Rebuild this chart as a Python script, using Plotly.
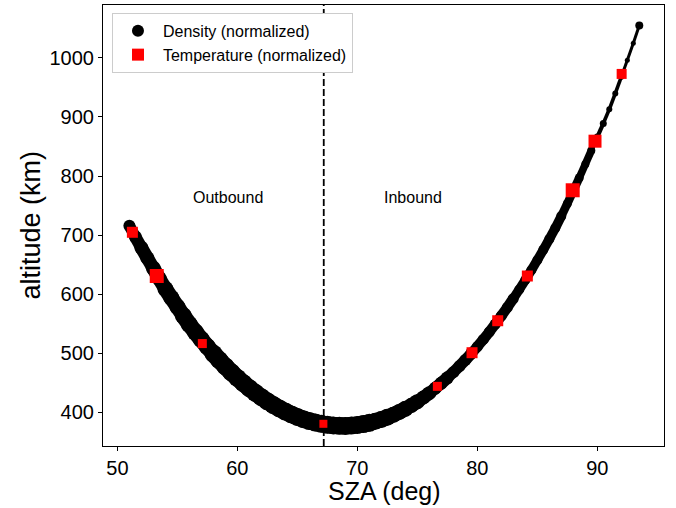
import plotly.graph_objects as go

# Density (normalized) trajectory samples: SZA (deg), altitude (km), marker size
sza_out = [51.0, 51.5, 52.0, 52.5, 53.0, 53.5, 54.0, 54.5, 55.0, 55.5, 56.0, 56.5,
           57.0, 57.5, 58.0, 58.5, 59.0, 59.5, 60.0, 60.5, 61.0, 61.5, 62.0, 62.5,
           63.0, 63.5, 64.0, 64.5, 65.0, 65.5, 66.0, 66.5, 67.0, 67.5, 68.0, 68.5]
alt_out = [715.5, 696.7, 678.5, 660.8, 643.6, 625.8, 608.7, 593.3, 578.4, 563.1, 548.5, 535.4,
           522.7, 510.6, 499.0, 487.9, 477.3, 467.3, 457.8, 448.8, 440.4, 432.5, 425.1, 418.2,
           411.8, 406.0, 400.7, 395.9, 391.7, 387.9, 384.7, 382.1, 379.9, 378.3, 377.2, 376.6]
size_out = [12, 13, 14, 14, 15, 15, 16, 16, 16, 17, 17, 17,
            17, 17, 18, 18, 18, 18, 18, 18, 18, 18, 18, 18,
            18, 18, 18, 18, 18, 18, 18, 18, 18, 18, 18, 18]

sza_in = [69.0, 69.5, 70.0, 70.5, 71.0, 71.5, 72.0, 72.5, 73.0, 73.5,
          74.0, 74.5, 75.0, 75.5, 76.0, 76.5, 77.0, 77.5, 78.0, 78.5,
          79.0, 79.5, 80.0, 80.5, 81.0, 81.5, 82.0, 82.5, 83.0, 83.5,
          84.0, 84.5, 85.0, 85.5, 86.0, 86.5, 87.0, 87.5, 88.0, 88.5,
          89.0, 89.5, 90.0, 90.5, 91.0, 91.5, 92.0, 92.5, 93.0, 93.5]
alt_in = [376.5, 377.0, 378.0, 379.6, 381.7, 384.3, 387.5, 391.1, 395.4, 400.1,
          405.4, 411.3, 417.6, 424.5, 432.0, 440.5, 449.0, 458.0, 467.5, 477.5,
          488.0, 499.0, 510.7, 523.0, 535.8, 549.1, 562.9, 577.3, 592.3, 607.7,
          623.7, 640.2, 657.3, 674.9, 693.0, 711.7, 732.0, 753.0, 775.0, 797.0,
          820.0, 843.0, 866.0, 889.0, 913.0, 940.0, 968.0, 996.0, 1025.0, 1055.0]
size_in = [18, 18, 18, 18, 18, 17, 17, 17, 16, 16,
           16, 15, 15, 14, 14, 13, 13, 13, 12, 12,
           12, 12, 11, 11, 11, 11, 11, 11, 11, 10,
           10, 10, 10, 10, 10, 10, 10, 9, 9, 9,
           8, 8, 7, 7, 6, 6, 6, 5, 5, 8]

# Temperature (normalized) samples
temp_sza = [51.25, 53.28, 57.08, 67.17, 76.67, 79.56, 81.7, 84.17, 87.95, 89.81, 92.03]
temp_alt = [704.6, 630.5, 516.0, 380.0, 443.5, 500.5, 554.7, 630.5, 775.8, 859.0, 973.0]
temp_size = [11, 14, 9, 8, 9, 11, 11, 11, 14, 13, 10]

boundary_sza = 67.2
x_ticks = [50, 60, 70, 80, 90]
y_ticks = [400, 500, 600, 700, 800, 900, 1000]

sza = sza_out + sza_in
alt = alt_out + alt_in
sizes = size_out + size_in

FONT = "Liberation Sans, Arial, Helvetica, sans-serif"

fig = go.Figure()
# connecting path segments underneath the dots, width following the dot size
for i in range(len(sza) - 1):
    s = min(sizes[i], sizes[i + 1])
    w = s * 0.95 if s > 7 else s * 0.6
    fig.add_trace(go.Scatter(x=sza[i:i + 2], y=alt[i:i + 2], mode="lines",
                             line=dict(color="black", width=w),
                             showlegend=False, hoverinfo="skip"))
fig.add_trace(go.Scatter(x=sza, y=alt, mode="markers",
                         marker=dict(color="black", size=sizes, symbol="circle", opacity=1,
                                     line=dict(width=0)),
                         showlegend=False))
fig.add_trace(go.Scatter(x=temp_sza, y=temp_alt, mode="markers",
                         marker=dict(color="red", size=temp_size, symbol="square", opacity=1,
                                     line=dict(width=0)),
                         showlegend=False))
# legend entries
fig.add_trace(go.Scatter(x=[None], y=[None], mode="markers", name="Density (normalized)",
                         marker=dict(color="black", size=12, symbol="circle", opacity=1)))
fig.add_trace(go.Scatter(x=[None], y=[None], mode="markers", name="Temperature (normalized)",
                         marker=dict(color="red", size=12, symbol="square", opacity=1)))

fig.add_shape(type="line", xref="x", yref="paper", x0=boundary_sza, x1=boundary_sza, y0=0, y1=1,
              line=dict(color="black", width=1.8, dash="7px,3px"), layer="below")

fig.add_annotation(x=59.25, y=763, text="Outbound", showarrow=False,
                   font=dict(family=FONT, size=16, color="black"))
fig.add_annotation(x=74.6, y=763, text="Inbound", showarrow=False,
                   font=dict(family=FONT, size=16, color="black"))

# axis titles
fig.add_annotation(xref="paper", yref="paper", x=0.501, y=-0.102, xanchor="center", yanchor="middle",
                   text="SZA (deg)", showarrow=False,
                   font=dict(family=FONT, size=25, color="black"))
fig.add_annotation(xref="paper", yref="paper", x=-0.13, y=0.5, xanchor="center", yanchor="middle",
                   text="altitude (km)", textangle=-90, showarrow=False,
                   font=dict(family=FONT, size=27, color="black"))

axis_common = dict(showline=True, linecolor="black", linewidth=1.2, mirror=True,
                   ticks="outside", ticklen=4, tickwidth=1, tickcolor="black",
                   showgrid=False, zeroline=False,
                   tickfont=dict(family=FONT, size=20, color="black"))

fig.update_xaxes(range=[48.8, 95.56], tickvals=x_ticks, **axis_common)
fig.update_yaxes(range=[342.4, 1089.8], tickvals=y_ticks, **axis_common)

fig.update_layout(
    width=676, height=508,
    margin=dict(l=103, r=12, t=5, b=62, autoexpand=False),
    paper_bgcolor="white", plot_bgcolor="white",
    font=dict(family=FONT, color="black"),
    legend=dict(x=0.016, y=0.982, xanchor="left", yanchor="top",
                bgcolor="white", bordercolor="#cccccc", borderwidth=1,
                font=dict(family=FONT, size=16, color="black"),
                tracegroupgap=0, itemsizing="constant", itemwidth=40),
)

fig.write_html("out.html")
